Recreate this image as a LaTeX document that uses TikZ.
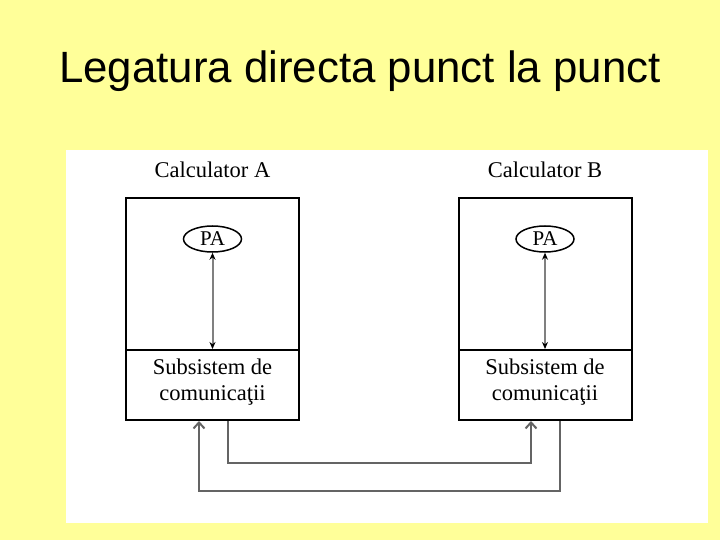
\documentclass[tikz,border=0pt]{standalone}
\usepackage{fontspec}
\setmainfont{Liberation Serif}
\newfontfamily\titlefont{Liberation Sans}
\usetikzlibrary{arrows.meta,shapes.geometric}
\definecolor{bgyellow}{RGB}{255,255,153}
\definecolor{linkgray}{RGB}{100,100,100}
\tikzset{
  box/.style={draw=black, line width=2pt, minimum width=173pt, inner sep=0pt},
  lbl/.style={font=\fontsize{22.5}{26.5}\selectfont, align=center, inner sep=0pt},
  pa/.style={draw=black, line width=1.5pt, ellipse, minimum width=58pt, minimum height=26pt, inner sep=0pt, font=\fontsize{21}{24}\selectfont},
  inarrow/.style={draw=gray, line width=2pt, {Stealth[length=7pt,width=6pt,black]}-{Stealth[length=7pt,width=6pt,black]}},
  link/.style={draw=linkgray, line width=2pt},
  linkarrow/.style={link, -{Straight Barb[length=6pt,width=11pt,line width=2pt]}}
}
\begin{document}
\begin{tikzpicture}[x=1pt,y=-1pt]
\useasboundingbox (0,0) rectangle (720,540);
\fill[bgyellow] (0,0) rectangle (720,540);
\fill[white] (66,150) rectangle (708,523);
\node[anchor=base, font=\titlefont\fontsize{43.8}{48}\selectfont, inner sep=0pt] (title) at (360,83) {Legatura directa punct la punct};
% Calculator A
\node[lbl] (calcA) at (212.5,170) {Calculator A};
\node[box, minimum height=152pt] (topA) at (212.5,274) {};
\node[box, minimum height=70pt] (subA) at (212.5,385) {};
\node[lbl] (subtxtA) at (212.5,382) {Subsistem de\\comunica\c{t}ii};
\node[pa] (paA) at (212.5,239) {PA};
\draw[inarrow] (paA.south) -- (subA.north);
% Calculator B
\node[lbl] (calcB) at (545,170) {Calculator B};
\node[box, minimum height=152pt] (topB) at (545,274) {};
\node[box, minimum height=70pt] (subB) at (545,385) {};
\node[lbl] (subtxtB) at (545,382) {Subsistem de\\comunica\c{t}ii};
\node[pa] (paB) at (545,239) {PA};
\draw[inarrow] (paB.south) -- (subB.north);
% links
\draw[linkarrow] ([xshift=15.5pt]subA.south) -- ++(0,42) -| ([xshift=-14pt]subB.south);
\draw[linkarrow] ([xshift=15pt]subB.south) -- ++(0,70) -| ([xshift=-13.5pt]subA.south);
\end{tikzpicture}
\end{document}
